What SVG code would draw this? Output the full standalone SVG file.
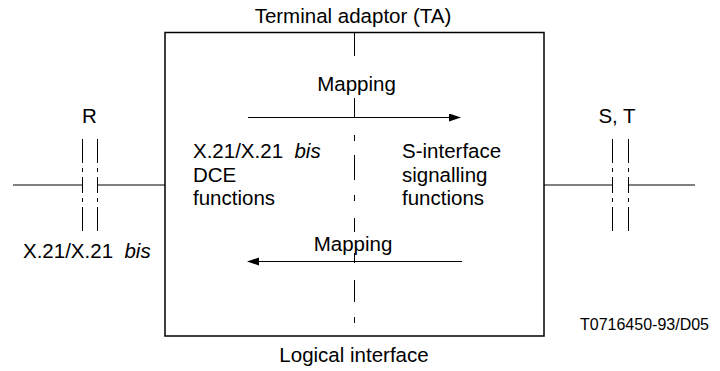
<svg xmlns="http://www.w3.org/2000/svg" width="720" height="371" viewBox="0 0 720 371">
<style>
text{font-family:"Liberation Sans",Arial,sans-serif;font-size:20.5px;fill:#000;white-space:pre}
.ln{stroke:#000;stroke-width:1;fill:none}
.dd{stroke:#000;stroke-width:1;fill:none}
.it{font-style:italic}
</style>
<defs>
<marker id="ah" markerWidth="12" markerHeight="10" refX="11" refY="4" orient="auto" markerUnits="userSpaceOnUse">
<path d="M0,0 L12,4 L0,8 Z" fill="#000"/>
</marker>
</defs>
<rect width="720" height="371" fill="#fff"/>
<g id="ta">
<rect x="165" y="32.5" width="379" height="303.5" fill="none" stroke="#000" stroke-width="1.5"/>
<text x="353" y="22.5" text-anchor="middle">Terminal adaptor (TA)</text>
<text x="354" y="362" text-anchor="middle">Logical interface</text>
<path class="dd" d="M354.5,33 V56 M354.5,98 V118 M354.5,135 V141 M354.5,155 V180 M354.5,195 V201 M354.5,218 V232 M354.5,253 V263 M354.5,280 V302 M354.5,317 V323"/>
</g>
<g id="dce">
<text x="193" y="158" xml:space="preserve">X.21/X.21  <tspan class="it">bis</tspan></text>
<text x="193" y="181.5">DCE</text>
<text x="193" y="205">functions</text>
</g>
<g id="sif">
<text x="402" y="158">S-interface</text>
<text x="402" y="181.5">signalling</text>
<text x="402" y="205">functions</text>
</g>
<g id="r">
<text x="89.5" y="123" text-anchor="middle">R</text>
<text x="23" y="257.5" xml:space="preserve">X.21/X.21  <tspan class="it">bis</tspan></text>
<path class="dd" d="M82.5,139 V163 M82.5,168 V172 M82.5,177 V193 M82.5,198 V202 M82.5,207 V231"/>
<path class="dd" d="M97.5,139 V163 M97.5,168 V172 M97.5,177 V193 M97.5,198 V202 M97.5,207 V231"/>
</g>
<g id="st">
<text x="617" y="123" text-anchor="middle">S, T</text>
<path class="dd" d="M612.5,139 V163 M612.5,168 V172 M612.5,177 V193 M612.5,198 V202 M612.5,207 V231"/>
<path class="dd" d="M628.5,139 V163 M628.5,168 V172 M628.5,177 V193 M628.5,198 V202 M628.5,207 V231"/>
</g>
<g id="connectors">
<line class="ln" x1="13" y1="185" x2="82.5" y2="185"/>
<line class="ln" x1="97.5" y1="185" x2="165" y2="185"/>
<line class="ln" x1="544" y1="185" x2="612.5" y2="185"/>
<line class="ln" x1="628.5" y1="185" x2="695" y2="185"/>
<line class="ln" x1="248" y1="117.5" x2="460" y2="117.5" marker-end="url(#ah)"/>
<text x="356.5" y="91" text-anchor="middle">Mapping</text>
<line class="ln" x1="462" y1="261.5" x2="248" y2="261.5" marker-end="url(#ah)"/>
<text x="353" y="251" text-anchor="middle">Mapping</text>
</g>
<text x="580" y="330" style="font-size:16px">T0716450-93/D05</text>
</svg>
